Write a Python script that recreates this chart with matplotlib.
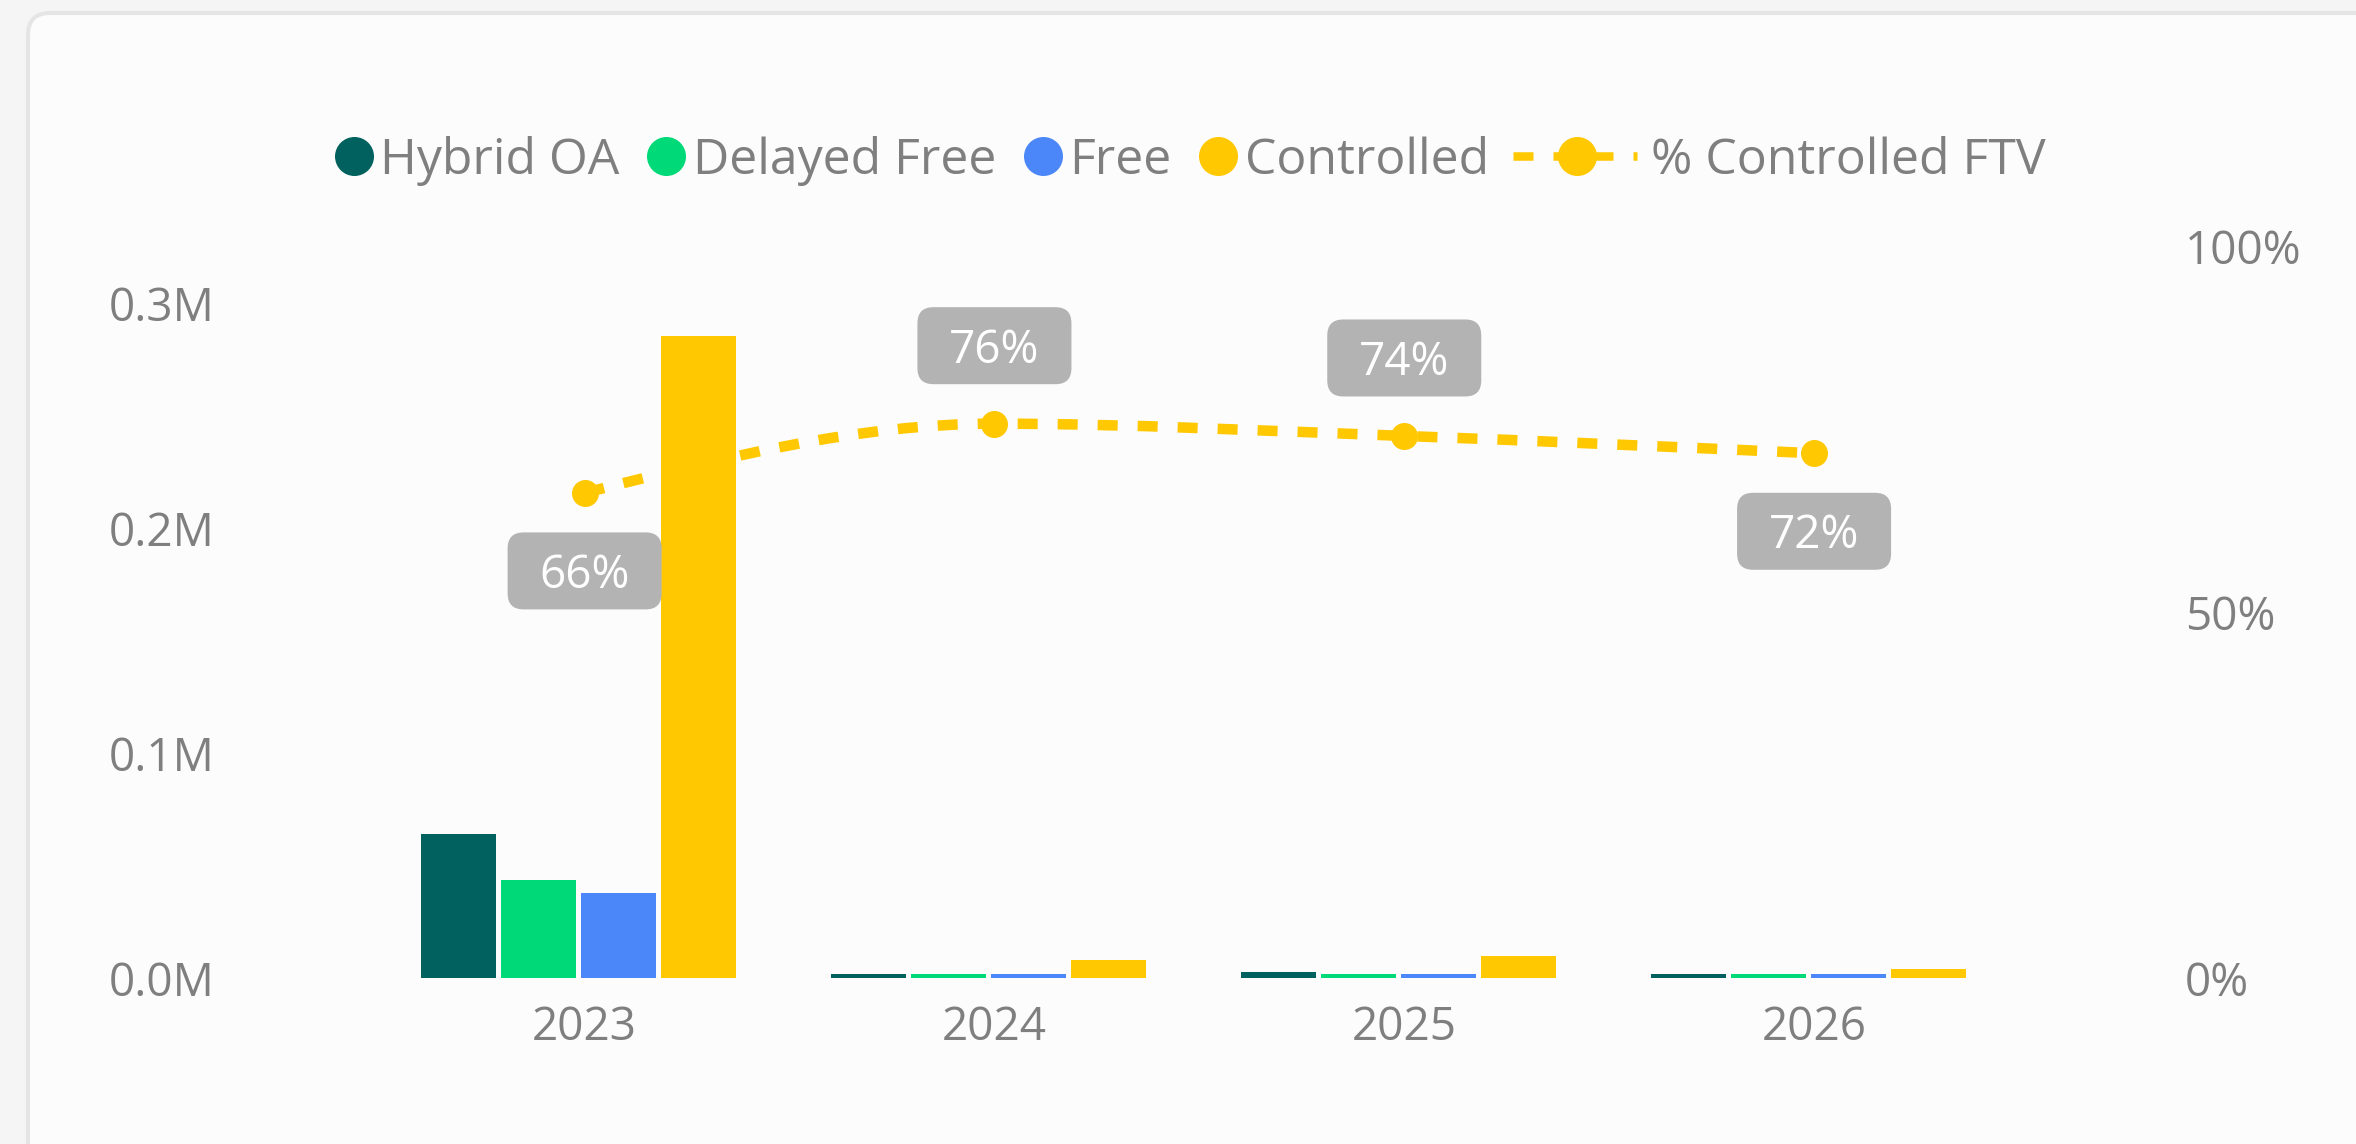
import matplotlib
matplotlib.use("Agg")
import matplotlib.pyplot as plt
from matplotlib.patches import FancyBboxPatch, PathPatch
from matplotlib.path import Path
from matplotlib.lines import Line2D
from matplotlib.transforms import IdentityTransform, Affine2D, ScaledTranslation
from matplotlib.ticker import FuncFormatter, FixedLocator

plt.rcParams['font.family'] = ['Open Sans', 'DejaVu Sans']
plt.rcParams['lines.scale_dashes'] = False

# ---------------- data ----------------
years = ["2023", "2024", "2025", "2026"]
hybrid_oa = [0.0639e6, 0.0020e6, 0.0025e6, 0.0020e6]
delayed_free = [0.0434e6, 0.0020e6, 0.0020e6, 0.0020e6]
free = [0.0376e6, 0.0020e6, 0.0020e6, 0.0020e6]
controlled = [0.2857e6, 0.0078e6, 0.0097e6, 0.0042e6]
pct_controlled_ftv = [0.6636, 0.7583, 0.7415, 0.7178]
label_above = [False, True, True, False]

series_names = ["Hybrid OA", "Delayed Free", "Free", "Controlled"]
series_colors = ["#00615E", "#00D978", "#4B87F8", "#FFC800"]
line_name = "% Controlled FTV"
line_color = "#FFC800"
text_color = "#7F7F7F"
label_box_color = "#B3B3B3"

left_ticks = [0, 0.1e6, 0.2e6, 0.3e6]
right_ticks = [0, 0.5, 1.0]

# ---------------- figure ----------------
W, H = 2356, 1144
fig = plt.figure(figsize=(W / 100, H / 100), dpi=100)
fig.patch.set_facecolor("#F5F5F5")

card = FancyBboxPatch((28, -60), 2420, (H - 13) + 60,
                      boxstyle="round,pad=0,rounding_size=22",
                      transform=IdentityTransform(), fc="#FCFCFC",
                      ec="#E5E5E5", lw=2.9, zorder=0)
fig.add_artist(card)

ax_left_px, ax_right_px = 379.7, 2019.0
ax_top_px, ax_bot_px = 247.0, 978.0
rect = [ax_left_px / W, 1 - ax_bot_px / H,
        (ax_right_px - ax_left_px) / W, (ax_bot_px - ax_top_px) / H]
ax_line = fig.add_axes(rect)
ax_bar = ax_line.twinx()

for a in (ax_line, ax_bar):
    a.patch.set_visible(False)
    for s in a.spines.values():
        s.set_visible(False)

n = len(years)
xs = list(range(n))
ax_line.set_xlim(-0.5, n - 0.5)
ax_line.set_ylim(0, 1)
ax_bar.set_ylim(0, 0.3252e6)

# bars
bar_w = 0.183
step = 0.1952
group_shift = -0.0146
all_series = [hybrid_oa, delayed_free, free, controlled]
for k, (vals, col) in enumerate(zip(all_series, series_colors)):
    pos = [x + group_shift + (k - 1.5) * step for x in xs]
    ax_bar.bar(pos, vals, width=bar_w, color=col, zorder=2, linewidth=0)

# smooth monotone line (d3 curveMonotoneX-like)
def monotone_path(xv, yv):
    m = len(xv)
    sec = [(yv[i + 1] - yv[i]) / (xv[i + 1] - xv[i]) for i in range(m - 1)]
    t = [0.0] * m
    for i in range(1, m - 1):
        s0, s1 = sec[i - 1], sec[i]
        h0, h1 = xv[i] - xv[i - 1], xv[i + 1] - xv[i]
        p = (s0 * h1 + s1 * h0) / (h0 + h1)
        sg = (1 if s0 > 0 else -1 if s0 < 0 else 0) + (1 if s1 > 0 else -1 if s1 < 0 else 0)
        t[i] = sg * min(abs(s0), abs(s1), 0.5 * abs(p))
    t[0] = (3 * sec[0] - t[1]) / 2
    t[-1] = (3 * sec[-1] - t[-2]) / 2
    verts = [(xv[0], yv[0])]
    codes = [Path.MOVETO]
    for i in range(m - 1):
        dx = (xv[i + 1] - xv[i]) / 3
        verts += [(xv[i] + dx, yv[i] + dx * t[i]),
                  (xv[i + 1] - dx, yv[i + 1] - dx * t[i + 1]),
                  (xv[i + 1], yv[i + 1])]
        codes += [Path.CURVE4] * 3
    return Path(verts, codes)

line_lw = 10.5 * 0.72
dash = (0, (14.4, 14.4))
pp = PathPatch(monotone_path(xs, pct_controlled_ftv), fill=False, ec=line_color,
               lw=line_lw, linestyle=dash, capstyle="butt", zorder=2)
ax_line.add_patch(pp)
ax_line.plot(xs, pct_controlled_ftv, linestyle="none", marker="o",
             ms=27 * 0.72, color=line_color, mec="none", zorder=3)

# data labels
for x, v, above in zip(xs, pct_controlled_ftv, label_above):
    off = 78 if above else -78
    tr = Affine2D() + ScaledTranslation(x, v, ax_line.transData)
    box = FancyBboxPatch((-77, off - 38.5), 154, 77,
                         boxstyle="round,pad=0,rounding_size=16",
                         fc=label_box_color, ec="none", transform=tr,
                         zorder=10, clip_on=False)
    ax_bar.add_patch(box)
    ax_bar.text(0, off - 17, f"{round(v * 100):.0f}%", transform=tr,
                ha="center", va="baseline", color="white", fontsize=33,
                zorder=11, clip_on=False)

# axes ticks
ax_bar.yaxis.set_major_locator(FixedLocator(left_ticks))
ax_bar.yaxis.set_major_formatter(FuncFormatter(lambda v, p: f"{v / 1e6:.1f}M"))
ax_bar.yaxis.tick_left()
ax_bar.tick_params(axis="y", length=0, pad=118.6, labelsize=33, labelcolor=text_color)

ax_line.yaxis.set_major_locator(FixedLocator(right_ticks))
ax_line.yaxis.set_major_formatter(FuncFormatter(lambda v, p: f"{v * 100:.0f}%"))
ax_line.yaxis.tick_right()
ax_line.tick_params(axis="y", length=0, pad=119.5, labelsize=33, labelcolor=text_color)
ax_line.set_xticks(xs)
ax_line.set_xticklabels(years)
ax_line.tick_params(axis="x", length=0, pad=19.5, labelsize=33, labelcolor=text_color)

# legend (manual, in pixel space)
renderer = fig.canvas.get_renderer()
leg_y = H - 156
leg_base = H - 174
x = 334.5
mk_d = 39
leg_fs = 36
for name, col in zip(series_names, series_colors):
    fig.add_artist(Line2D([x + mk_d / 2], [leg_y], marker="o", ms=mk_d * 0.72,
                          color=col, mec="none", linestyle="none",
                          transform=IdentityTransform()))
    t = fig.text(x + mk_d + 7, leg_base, name, transform=IdentityTransform(),
                 fontsize=leg_fs, color=text_color, va="baseline", ha="left")
    w = t.get_window_extent(renderer).width
    x = x + mk_d + 7 + w + 27
x -= 3
line_len = 124
fig.add_artist(Line2D([x, x + line_len], [leg_y, leg_y], color=line_color,
                      lw=8.5 * 0.72, linestyle=dash, dash_capstyle="butt",
                      transform=IdentityTransform()))
fig.add_artist(Line2D([x + 64], [leg_y], marker="o", ms=mk_d * 0.72,
                      color=line_color, mec="none", linestyle="none",
                      transform=IdentityTransform()))
fig.text(x + line_len + 14, leg_base, line_name, transform=IdentityTransform(),
         fontsize=leg_fs, color=text_color, va="baseline", ha="left")

fig.savefig("out.png", dpi=100, facecolor=fig.get_facecolor())
